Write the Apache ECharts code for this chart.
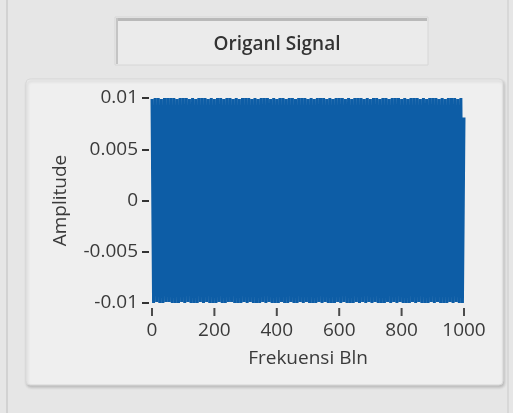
<!DOCTYPE html>
<html>
<head>
<meta charset="utf-8">
<script src="https://cdn.jsdelivr.net/npm/echarts@6/dist/echarts.min.js"></script>
<style>
	html, body { margin: 0; padding: 0; background: #e6e6e6; }
	#main { width: 513px; height: 413px; }
</style>
</head>
<body>
<div id="main"></div>
<script>
	// 标题和坐标轴文字
	let chartTitle = 'Origanl Signal';
	let xName = 'Frekuensi Bln';
	let yName = 'Amplitude';

	// 每个采样点之间的 bin 间隔
	let binStep = 5;

	// 采样信号（高频振荡，幅值约 ±0.01）
	let signal = [
		0.0099, -0.0100, 0.0100, -0.0099, 0.0100, -0.0100, 0.0099, -0.0100, 0.0100, -0.0099,
		0.0100, -0.0099, 0.0100, -0.0100, 0.0100, -0.0100, 0.0099, -0.0100, 0.0100, -0.0099,
		0.0100, -0.0100, 0.0100, -0.0099, 0.0099, -0.0100, 0.0100, -0.0100, 0.0099, -0.0100,
		0.0100, -0.0099, 0.0100, -0.0100, 0.0100, -0.0099, 0.0099, -0.0100, 0.0100, -0.0100,
		0.0099, -0.0100, 0.0100, -0.0099, 0.0100, -0.0100, 0.0099, -0.0100, 0.0100, -0.0099,
		0.0100, -0.0099, 0.0099, -0.0100, 0.0100, -0.0100, 0.0099, -0.0100, 0.0100, -0.0099,
		0.0100, -0.0100, 0.0100, -0.0099, 0.0099, -0.0100, 0.0100, -0.0100, 0.0099, -0.0100,
		0.0100, -0.0099, 0.0100, -0.0100, 0.0100, -0.0099, 0.0099, -0.0100, 0.0100, -0.0100,
		0.0099, -0.0100, 0.0100, -0.0099, 0.0100, -0.0100, 0.0099, -0.0100, 0.0100, -0.0099,
		0.0100, -0.0100, 0.0099, -0.0100, 0.0100, -0.0099, 0.0100, -0.0100, 0.0100, -0.0099,
		0.0099, -0.0100, 0.0100, -0.0100, 0.0099, -0.0100, 0.0100, -0.0099, 0.0100, -0.0100,
		0.0100, -0.0099, 0.0099, -0.0100, 0.0100, -0.0100, 0.0099, -0.0100, 0.0100, -0.0099,
		0.0100, -0.0100, 0.0100, -0.0099, 0.0099, -0.0100, 0.0100, -0.0100, 0.0099, -0.0100,
		0.0100, -0.0099, 0.0100, -0.0100, 0.0100, -0.0099, 0.0099, -0.0100, 0.0100, -0.0099,
		0.0099, -0.0100, 0.0100, -0.0099, 0.0100, -0.0100, 0.0099, -0.0100, 0.0100, -0.0100,
		0.0100, -0.0099, 0.0099, -0.0100, 0.0100, -0.0099, 0.0100, -0.0100, 0.0100, -0.0099,
		0.0099, -0.0100, 0.0100, -0.0100, 0.0099, -0.0100, 0.0100, -0.0099, 0.0100, -0.0100,
		0.0100, -0.0099, 0.0099, -0.0100, 0.0100, -0.0100, 0.0099, -0.0100, 0.0100, -0.0099,
		0.0100, -0.0100, 0.0100, -0.0099, 0.0099, -0.0100, 0.0100, -0.0100, 0.0099, -0.0100,
		0.0100, -0.0099, 0.0100, -0.0100, 0.0100, -0.0099, 0.0099, -0.0100, 0.0100, -0.0100,
		0.0081
	];

	// 坐标轴刻度
	let xTicks = [0, 200, 400, 600, 800, 1000];
	let yTicks = [-0.01, -0.005, 0, 0.005, 0.01];
	let yTickLabels = ['-0.01', '-0.005', '0', '0.005', '0.01'];

	let myChart = echarts.init(document.getElementById('main'));

	let seriesData = signal.map(function(v, i) {
		return [i * binStep, v];
	});

	// x 轴刻度线（放在 y 最小值处，向下偏移）
	let xTickMarks = xTicks.map(function(t) {
		return [t, yTicks[0]];
	});

	let textColor = '#3a3a3a';
	let fontFamily = 'Open Sans';
	let fontSize = 19;

	let option = {
		animation: false,
		backgroundColor: '#e6e6e6',
		textStyle: { fontFamily: fontFamily },
		title: {
			text: chartTitle,
			left: 272,
			top: 30,
			textAlign: 'center',
			textStyle: {
				fontSize: 19,
				fontWeight: 600,
				color: '#333',
				fontFamily: fontFamily
			}
		},
		graphic: [
			// 外框左右线
			{ type: 'rect', silent: true, z: -10, shape: { x: 6, y: 0, width: 2, height: 413 }, style: { fill: '#d2d2d2' } },
			{ type: 'rect', silent: true, z: -10, shape: { x: 507, y: 0, width: 2, height: 413 }, style: { fill: '#d8d8d8' } },
			// 标题框
			{
				type: 'rect', silent: true, z: -9,
				shape: { x: 115, y: 17, width: 313, height: 48 },
				style: { fill: '#ebebeb', stroke: '#d6d6d6', lineWidth: 1 }
			},
			{ type: 'rect', silent: true, z: -8, shape: { x: 116, y: 18, width: 311, height: 3 }, style: { fill: '#b9b9b9' } },
			{ type: 'rect', silent: true, z: -8, shape: { x: 116, y: 18, width: 2, height: 46 }, style: { fill: '#c4c4c4' } },
			// 图表面板
			{
				type: 'rect', silent: true, z: -9,
				shape: { x: 26, y: 79, width: 477, height: 306, r: 4 },
				style: {
					fill: '#efefef', stroke: '#d9d9d9', lineWidth: 1,
					shadowColor: 'rgba(0,0,0,0.18)', shadowBlur: 3, shadowOffsetX: 1, shadowOffsetY: 2
				}
			}
		],
		grid: {
			left: 152,
			right: 49,
			top: 98,
			bottom: 110
		},
		xAxis: {
			type: 'value',
			position: 'bottom',
			min: xTicks[0],
			max: xTicks[xTicks.length - 1],
			interval: xTicks[1] - xTicks[0],
			name: xName,
			nameLocation: 'middle',
			nameGap: 46,
			nameTextStyle: { fontSize: fontSize, color: textColor },
			axisLine: { show: false, onZero: false },
			axisTick: { show: false },
			axisLabel: {
				fontSize: fontSize,
				color: textColor,
				margin: 18,
				formatter: function(v) { return String(v); }
			},
			splitLine: { show: false }
		},
		yAxis: {
			type: 'value',
			min: yTicks[0],
			max: yTicks[yTicks.length - 1],
			interval: 0.005,
			offset: 3,
			z: 10,
			name: yName,
			nameLocation: 'middle',
			nameGap: 79,
			nameRotate: 90,
			nameTextStyle: { fontSize: fontSize, color: textColor },
			axisLine: { show: true, onZero: false, lineStyle: { color: 'rgba(0,0,0,0)' } },
			axisTick: { show: true, inside: false, length: 7, lineStyle: { color: '#333', width: 2 } },
			axisLabel: {
				fontSize: fontSize,
				color: textColor,
				margin: 11,
				formatter: function(v) {
					let k = yTicks.findIndex(function(t) { return Math.abs(t - v) < 1e-9; });
					return k >= 0 ? yTickLabels[k] : '';
				}
			},
			splitLine: { show: false }
		},
		series: [{
			type: 'line',
			data: seriesData,
			showSymbol: false,
			symbol: 'none',
			clip: true,
			lineStyle: { color: '#0d5da6', width: 3, join: 'bevel' },
			emphasis: { disabled: true }
		}, {
			type: 'scatter',
			data: xTickMarks,
			symbol: 'rect',
			symbolSize: [2, 8],
			symbolOffset: [0, 9],
			clip: false,
			silent: true,
			z: 10,
			itemStyle: { color: '#222' }
		}]
	};

	myChart.setOption(option);
</script>
</body>
</html>
